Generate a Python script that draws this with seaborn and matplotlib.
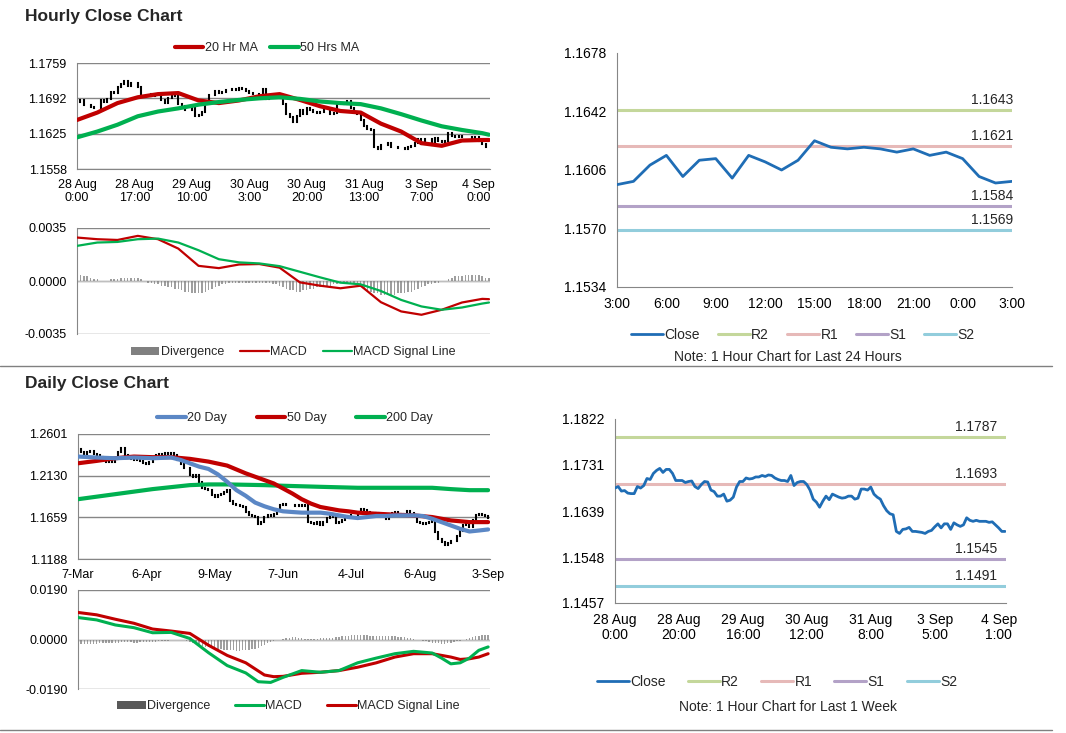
import numpy as np
import pandas as pd
import matplotlib
matplotlib.use('Agg')
import matplotlib.pyplot as plt
from matplotlib.lines import Line2D
from matplotlib.patches import Patch
import seaborn as sns

sns.set_style('white')
plt.rcParams['font.family'] = ['Liberation Sans', 'DejaVu Sans']

# ---------------- data ----------------
# hourly closes 28 Aug 0:00 .. 4 Sep 3:00 (used by the hourly candles and the 1 week chart)
hour_close = [
    1.1685, 1.1688, 1.1679, 1.1680, 1.1675, 1.1674, 1.1674, 1.1688, 1.1685, 1.1690,
    1.1704, 1.1702, 1.1714, 1.1720, 1.1724, 1.1716, 1.1722, 1.1722, 1.1714, 1.1700,
    1.1700, 1.1700, 1.1696, 1.1698, 1.1699, 1.1688, 1.1684, 1.1692, 1.1698, 1.1697,
    1.1681, 1.1678, 1.1669, 1.1669, 1.1673, 1.1659, 1.1661, 1.1667, 1.1687, 1.1698,
    1.1698, 1.1705, 1.1703, 1.1704, 1.1707, 1.1707, 1.1710, 1.1708, 1.1711, 1.1710,
    1.1705, 1.1702, 1.1700, 1.1700, 1.1698, 1.1710, 1.1690, 1.1696, 1.1698, 1.1698,
    1.1692, 1.1681, 1.1663, 1.1657, 1.1647, 1.1659, 1.1669, 1.1662, 1.1673, 1.1670,
    1.1667, 1.1665, 1.1666, 1.1669, 1.1669, 1.1663, 1.1665, 1.1683, 1.1683, 1.1681,
    1.1687, 1.1673, 1.1667, 1.1663, 1.1650, 1.1640, 1.1634, 1.1632, 1.1599, 1.1595,
    1.1603, 1.1604, 1.1607, 1.1599, 1.1599, 1.1598, 1.1597, 1.1595, 1.1599, 1.1601,
    1.1608, 1.1614, 1.1606, 1.1614, 1.1614, 1.1603, 1.1616, 1.1612, 1.1609, 1.1612,
    1.1626, 1.1621, 1.1619, 1.1621, 1.1619, 1.1619, 1.1619, 1.1617, 1.1618, 1.1612,
    1.1606, 1.1599, 1.1599,
]
hour_ma_idx = [0, 6, 12, 18, 24, 30, 36, 42, 48, 54, 60, 66, 72, 78, 84, 90, 96, 102, 108, 114, 120, 122]
ma20_hr = [1.1651, 1.1665, 1.1683, 1.1694, 1.1700, 1.1702, 1.1688, 1.1683, 1.1688, 1.1696, 1.1700,
           1.1689, 1.1677, 1.1668, 1.1665, 1.1644, 1.1629, 1.1607, 1.1602, 1.1612, 1.1613, 1.1613]
ma50_hr = [1.1618, 1.1629, 1.1642, 1.1658, 1.1667, 1.1673, 1.1680, 1.1685, 1.1689, 1.1692, 1.1694,
           1.1691, 1.1686, 1.1683, 1.1681, 1.1673, 1.1662, 1.1650, 1.1639, 1.1632, 1.1626, 1.1623]
macd_hr = [0.00287, 0.00276, 0.00271, 0.00298, 0.00276, 0.00214, 0.00100, 0.00085, 0.00109, 0.00112, 0.00088,
           -0.00009, -0.00031, -0.00048, -0.00031, -0.00140, -0.00201, -0.00223, -0.00190, -0.00142, -0.00118, -0.00120]
signal_hr = [0.00232, 0.00254, 0.00258, 0.00276, 0.00280, 0.00254, 0.00203, 0.00144, 0.00123, 0.00116, 0.00098,
             0.00061, 0.00024, -0.00011, -0.00022, -0.00066, -0.00125, -0.00168, -0.00190, -0.00175, -0.00149, -0.00142]
diverg_hr = [
    0.0004, 0.0004, 0.0003, 0.0003, 0.0002, 0.0001, 0.0001, 0.0000, 0.0000, 0.0000,
    0.0001, 0.0001, 0.0001, 0.0002, 0.0002, 0.0002, 0.0002, 0.0002, 0.0002, 0.0001,
    0.0000, -0.0001, -0.0001, -0.0002, -0.0002, -0.0003, -0.0003, -0.0004, -0.0004, -0.0005,
    -0.0005, -0.0006, -0.0007, -0.0007, -0.0008, -0.0008, -0.0008, -0.0008, -0.0007, -0.0006,
    -0.0005, -0.0004, -0.0003, -0.0002, -0.0002, -0.0001, -0.0001, -0.0001, -0.0001, -0.0001,
    -0.0001, -0.0001, -0.0001, -0.0001, -0.0001, -0.0001, -0.0001, -0.0001, -0.0002, -0.0002,
    -0.0003, -0.0004, -0.0005, -0.0006, -0.0006, -0.0007, -0.0007, -0.0006, -0.0006, -0.0005,
    -0.0005, -0.0004, -0.0004, -0.0004, -0.0003, -0.0003, -0.0002, -0.0002, -0.0001, -0.0001,
    -0.0001, -0.0001, -0.0002, -0.0003, -0.0004, -0.0005, -0.0006, -0.0007, -0.0008, -0.0008,
    -0.0009, -0.0009, -0.0009, -0.0009, -0.0009, -0.0008, -0.0008, -0.0008, -0.0007, -0.0007,
    -0.0006, -0.0005, -0.0004, -0.0003, -0.0002, -0.0002, -0.0001, -0.0001, 0.0000, 0.0000,
    0.0001, 0.0002, 0.0003, 0.0003, 0.0003, 0.0004, 0.0004, 0.0004, 0.0004, 0.0004,
    0.0003, 0.0002, 0.0002,
]
hr_ticks = ['28 Aug\n0:00', '28 Aug\n17:00', '29 Aug\n10:00', '30 Aug\n3:00',
            '30 Aug\n20:00', '31 Aug\n13:00', '3 Sep\n7:00', '4 Sep\n0:00']

# last 24 hours
day_hours = ['3:00', '4:00', '5:00', '6:00', '7:00', '8:00', '9:00', '10:00', '11:00', '12:00',
             '13:00', '14:00', '15:00', '16:00', '17:00', '18:00', '19:00', '20:00', '21:00',
             '22:00', '23:00', '0:00', '1:00', '2:00', '3:00']
day_close = [1.1597, 1.1599, 1.1609, 1.1615, 1.1602, 1.1612, 1.1613, 1.1601, 1.1615, 1.1611,
             1.1606, 1.1612, 1.1624, 1.1620, 1.1619, 1.1620, 1.1619, 1.1617, 1.1619, 1.1615,
             1.1617, 1.1613, 1.1602, 1.1598, 1.1599]
levels_24h = {'R2': 1.1643, 'R1': 1.1621, 'S1': 1.1584, 'S2': 1.1569}
levels_week = {'R2': 1.1787, 'R1': 1.1693, 'S1': 1.1545, 'S2': 1.1491}
week_ticks = ['28 Aug\n0:00', '28 Aug\n20:00', '29 Aug\n16:00', '30 Aug\n12:00',
              '31 Aug\n8:00', '3 Sep\n5:00', '4 Sep\n1:00']

# daily closes 7 Mar .. 3 Sep
daily_close = [
    1.2434, 1.2403, 1.2373, 1.2396, 1.2411, 1.2373, 1.2358, 1.2346, 1.2327, 1.2289,
    1.2297, 1.2282, 1.2327, 1.2403, 1.2441, 1.2365, 1.2327, 1.2320, 1.2308, 1.2327,
    1.2297, 1.2270, 1.2259, 1.2289, 1.2327, 1.2358, 1.2373, 1.2358, 1.2384, 1.2373,
    1.2384, 1.2358, 1.2308, 1.2259, 1.2221, 1.2213, 1.2137, 1.2118, 1.2137, 1.2061,
    1.1993, 1.1978, 1.1966, 1.1909, 1.1890, 1.1909, 1.1928, 1.1947, 1.1966, 1.1841,
    1.1814, 1.1795, 1.1788, 1.1776, 1.1719, 1.1689, 1.1674, 1.1662, 1.1586, 1.1605,
    1.1662, 1.1681, 1.1674, 1.1700, 1.1738, 1.1795, 1.1807, 1.1803, 1.1795, 1.1803,
    1.1788, 1.1795, 1.1788, 1.1803, 1.1605, 1.1598, 1.1586, 1.1605, 1.1575, 1.1605,
    1.1651, 1.1689, 1.1662, 1.1598, 1.1605, 1.1624, 1.1674, 1.1662, 1.1689, 1.1689,
    1.1712, 1.1757, 1.1738, 1.1719, 1.1681, 1.1681, 1.1712, 1.1689, 1.1674, 1.1643,
    1.1700, 1.1712, 1.1719, 1.1700, 1.1681, 1.1700, 1.1727, 1.1712, 1.1674, 1.1605,
    1.1598, 1.1586, 1.1598, 1.1605, 1.1624, 1.1491, 1.1415, 1.1377, 1.1347, 1.1369,
    1.1396, 1.1396, 1.1453, 1.1499, 1.1567, 1.1586, 1.1548, 1.1624, 1.1681, 1.1700,
    1.1689, 1.1674, 1.1651,
]
ma20_d_idx = [0, 6, 12, 18, 24, 30, 33, 36, 39, 42, 45, 48, 51, 54, 57, 60, 63, 66, 69, 72,
              75, 78, 81, 84, 87, 90, 93, 96, 99, 102, 105, 108, 111, 114, 117, 120, 123, 126, 129, 132]
ma20_d = [1.2346, 1.2335, 1.2327, 1.2335, 1.2327, 1.2335, 1.2308, 1.2270, 1.2232, 1.2206,
          1.2145, 1.2061, 1.1966, 1.1902, 1.1826, 1.1784, 1.1750, 1.1727, 1.1719, 1.1712,
          1.1712, 1.1712, 1.1700, 1.1681, 1.1662, 1.1651, 1.1662, 1.1674, 1.1674, 1.1681,
          1.1681, 1.1681, 1.1674, 1.1643, 1.1605, 1.1567, 1.1529, 1.1499, 1.1510, 1.1522]
ma50_d_idx = [0, 6, 12, 18, 24, 30, 36, 42, 48, 54, 60, 63, 66, 69, 72, 75, 78, 81, 84, 87,
              90, 96, 102, 108, 114, 120, 126, 132]
ma50_d = [1.2270, 1.2297, 1.2327, 1.2346, 1.2339, 1.2339, 1.2320, 1.2289, 1.2244, 1.2156,
          1.2080, 1.2042, 1.1985, 1.1928, 1.1864, 1.1814, 1.1776, 1.1757, 1.1738, 1.1727,
          1.1712, 1.1700, 1.1689, 1.1681, 1.1662, 1.1624, 1.1605, 1.1605]
ma200_d_idx = [0, 12, 24, 36, 42, 48, 60, 66, 78, 90, 102, 114, 120, 126, 132]
ma200_d = [1.1864, 1.1921, 1.1978, 1.2023, 1.2031, 1.2031, 1.2023, 1.2016, 1.2004, 1.1993,
           1.1993, 1.1993, 1.1978, 1.1966, 1.1966]
macd_d_idx = [0, 6, 12, 18, 24, 30, 36, 42, 48, 54, 58, 62, 66, 72, 78, 84, 90, 96, 102, 108,
              114, 117, 120, 123, 126, 129, 132]
macd_d = [0.00843, 0.00752, 0.00558, 0.00454, 0.00259, 0.00272, 0.00039, -0.00506, -0.00999, -0.01284,
          -0.01621, -0.01647, -0.01453, -0.01193, -0.01258, -0.01193, -0.00895, -0.00713, -0.00545, -0.00454,
          -0.00519, -0.00713, -0.00934, -0.00895, -0.00713, -0.00415, -0.00285]
signal_d_idx = [0, 6, 12, 18, 24, 30, 36, 42, 48, 54, 60, 63, 66, 72, 78, 84, 90, 96, 102, 108,
                114, 120, 123, 126, 129, 132]
signal_d = [0.01038, 0.00947, 0.00778, 0.00623, 0.00402, 0.00324, 0.00233, -0.00220, -0.00610, -0.00895,
            -0.01362, -0.01427, -0.01414, -0.01297, -0.01258, -0.01193, -0.01064, -0.00895, -0.00674, -0.00545,
            -0.00545, -0.00674, -0.00765, -0.00739, -0.00674, -0.00545]
diverg_d = [
    -0.0018, -0.0018, -0.0017, -0.0017, -0.0016, -0.0016, -0.0016, -0.0015, -0.0015, -0.0015,
    -0.0014, -0.0014, -0.0013, -0.0012, -0.0011, -0.0010, -0.0010, -0.0011, -0.0012, -0.0012,
    -0.0011, -0.0010, -0.0010, -0.0009, -0.0008, -0.0008, -0.0007, -0.0006, -0.0005, -0.0004,
    -0.0003, -0.0003, -0.0002, -0.0002, -0.0003, -0.0005, -0.0008, -0.0012, -0.0016, -0.0020,
    -0.0024, -0.0027, -0.0030, -0.0032, -0.0034, -0.0036, -0.0038, -0.0040, -0.0041, -0.0042,
    -0.0042, -0.0043, -0.0043, -0.0042, -0.0041, -0.0040, -0.0038, -0.0035, -0.0031, -0.0026,
    -0.0020, -0.0014, -0.0009, -0.0005, -0.0002, 0.0000, 0.0003, 0.0005, 0.0007, 0.0008,
    0.0008, 0.0007, 0.0005, 0.0003, 0.0002, 0.0002, 0.0003, 0.0003, 0.0004, 0.0004,
    0.0004, 0.0005, 0.0006, 0.0008, 0.0010, 0.0012, 0.0014, 0.0015, 0.0016, 0.0016,
    0.0016, 0.0016, 0.0016, 0.0016, 0.0015, 0.0015, 0.0015, 0.0014, 0.0014, 0.0014,
    0.0013, 0.0013, 0.0012, 0.0011, 0.0010, 0.0008, 0.0006, 0.0004, 0.0002, 0.0000,
    -0.0002, -0.0004, -0.0006, -0.0009, -0.0012, -0.0014, -0.0015, -0.0016, -0.0016, -0.0015,
    -0.0013, -0.0010, -0.0007, -0.0004, -0.0001, 0.0002, 0.0005, 0.0008, 0.0012, 0.0015,
    0.0017, 0.0018, 0.0016,
]
day_ticks = ['7-Mar', '6-Apr', '9-May', '7-Jun', '4-Jul', '6-Aug', '3-Sep']

# ---------------- style ----------------
RED = '#C00000'
GREEN = '#00B050'
BLUE20 = '#5B87C5'
CLOSE = '#1F6DB5'
LEVEL_COLORS = {'R2': '#C4D79B', 'R1': '#E6B9B8', 'S1': '#B3A2C7', 'S2': '#92CDDC'}
GRID = '#868686'
HIST = '#7F7F7F'

W, H = 1066, 733
fig = plt.figure(figsize=(W / 100, H / 100), dpi=100)


def box(x0, y0, x1, y1):
    return [x0 / W, 1 - y1 / H, (x1 - x0) / W, (y1 - y0) / H]


def base(ax, yticks, size=9, grid=True, fmt='{:.4f}'):
    for s in ['top', 'right']:
        ax.spines[s].set_visible(False)
    ax.spines['left'].set_color(GRID)
    ax.spines['bottom'].set_color(GRID)
    ax.set_ylim(yticks[0], yticks[-1])
    ax.set_yticks(yticks)
    ax.set_yticklabels([fmt.format(v) for v in yticks])
    ax.tick_params(axis='both', colors=GRID, labelcolor='black', labelsize=size,
                   length=4, width=1, direction='out')
    ax.grid(False)
    if grid:
        for v in yticks:
            ax.axhline(v, color=GRID, lw=1, zorder=0)


def candles(ax, closes, lw):
    c = np.array(closes)
    o = np.r_[c[0], c[:-1]]
    x = np.arange(len(c))
    lc = ax.vlines(x, np.minimum(o, c), np.maximum(o, c), color='black', lw=lw, zorder=2)
    lc.set_capstyle('projecting')


def legend(items, xc, yc, size, spacing, patch=None):
    handles = []
    labels = []
    if patch is not None:
        handles.append(Patch(facecolor=patch[1], edgecolor='none'))
        labels.append(patch[0])
    for lab, col, lw in items:
        handles.append(Line2D([], [], color=col, lw=lw, solid_capstyle='round'))
        labels.append(lab)
    fig.legend(handles, labels, loc='center', bbox_to_anchor=(xc / W, 1 - yc / H),
               ncol=len(handles), frameon=False, fontsize=size, handlelength=2.3,
               handletextpad=0.1, columnspacing=spacing, borderaxespad=0, handleheight=0.6)


def histogram(ax, values):
    ax.bar(np.arange(len(values)), values, width=0.45, color=HIST, alpha=0.75,
           linewidth=0, zorder=1)
    ax.axhline(0, color='#BFBFBF', lw=0.8, zorder=0)


# ---------------- hourly close chart ----------------
fig.text(25 / W, 1 - 17 / H, 'Hourly Close Chart', fontsize=12.5, fontweight='bold',
         ha='left', va='center')

ax1 = fig.add_axes(box(77, 63, 490, 169))
base(ax1, [1.1558, 1.1625, 1.1692, 1.1759])
candles(ax1, hour_close, 1.5)
sns.lineplot(x=hour_ma_idx, y=ma20_hr, ax=ax1, color=RED, lw=3, zorder=3)
sns.lineplot(x=hour_ma_idx, y=ma50_hr, ax=ax1, color=GREEN, lw=3, zorder=3)
ax1.set_xlim(0, 122.3)
ax1.set_xticks([0, 17, 34, 51, 68, 85, 102, 119])
ax1.set_xticklabels(hr_ticks, linespacing=1.05)
ax1.set_ylim(1.1558, 1.1759)
legend([('20 Hr MA', RED, 3), ('50 Hrs MA', GREEN, 3)], 267, 48, 9, 1.0)

ax2 = fig.add_axes(box(77, 228, 490, 334))
base(ax2, [-0.0035, 0.0, 0.0035])
ax2.spines['bottom'].set_visible(False)
histogram(ax2, diverg_hr)
sns.lineplot(x=hour_ma_idx, y=macd_hr, ax=ax2, color=RED, lw=1.6, zorder=3)
sns.lineplot(x=hour_ma_idx, y=signal_hr, ax=ax2, color=GREEN, lw=1.6, zorder=3)
ax2.set_xlim(0, 122.3)
ax2.set_ylim(-0.0035, 0.0035)
ax2.set_xticks([])
legend([('MACD', RED, 1.6), ('MACD Signal Line', GREEN, 1.6)], 293, 352, 9, 1.3,
       patch=('Divergence', '#808080'))

# ---------------- last 24 hours ----------------
ax3 = fig.add_axes(box(617, 53, 1012, 287))
base(ax3, [1.1534, 1.1570, 1.1606, 1.1642, 1.1678], size=10, grid=False)
for name, val in levels_24h.items():
    sns.lineplot(x=[0, len(day_close) - 1], y=[val, val], ax=ax3, color=LEVEL_COLORS[name], lw=2.2)
sns.lineplot(x=np.arange(len(day_close)), y=day_close, ax=ax3, color=CLOSE, lw=2, zorder=4)
for name, val in levels_24h.items():
    ax3.annotate(f'{val:.4f}', xy=(24, val), xytext=(1, 2), textcoords='offset points',
                 ha='right', va='bottom', fontsize=10)
ax3.set_xlim(0, 24)
ax3.set_xticks(range(0, 25, 3))
ax3.set_xticklabels(day_hours[::3])
ax3.set_ylim(1.1534, 1.1678)
legend([('Close', CLOSE, 2)] + [(k, LEVEL_COLORS[k], 2.2) for k in levels_24h], 803, 335, 10, 1.3)
fig.text(788 / W, 1 - 357 / H, 'Note: 1 Hour Chart for Last 24 Hours', fontsize=10,
         ha='center', va='center')

# separators
fig.add_artist(Line2D([0, 1052 / W], [1 - 366 / H, 1 - 366 / H], color='#808080', lw=1))
fig.add_artist(Line2D([0, 1052 / W], [1 - 730 / H, 1 - 730 / H], color='#808080', lw=1))

# ---------------- daily close chart ----------------
fig.text(25 / W, 1 - 383 / H, 'Daily Close Chart', fontsize=12.5, fontweight='bold',
         ha='left', va='center')

ax4 = fig.add_axes(box(78, 434, 490, 559))
base(ax4, [1.1188, 1.1659, 1.2130, 1.2601])
candles(ax4, daily_close, 1.5)
sns.lineplot(x=ma200_d_idx, y=ma200_d, ax=ax4, color=GREEN, lw=3, zorder=3)
sns.lineplot(x=ma50_d_idx, y=ma50_d, ax=ax4, color=RED, lw=3, zorder=3)
sns.lineplot(x=ma20_d_idx, y=ma20_d, ax=ax4, color=BLUE20, lw=3, zorder=3)
ax4.set_xlim(0, 132.6)
ax4.set_xticks([0, 22, 44, 66, 88, 110, 132])
ax4.set_xticklabels(day_ticks)
ax4.set_ylim(1.1188, 1.2601)
legend([('20 Day', BLUE20, 3), ('50 Day', RED, 3), ('200 Day', GREEN, 3)], 295, 418, 9, 2.4)

ax5 = fig.add_axes(box(78, 590, 490, 689))
base(ax5, [-0.0190, 0.0, 0.0190])
ax5.spines['bottom'].set_visible(False)
histogram(ax5, diverg_d)
sns.lineplot(x=signal_d_idx, y=signal_d, ax=ax5, color=RED, lw=2.2, zorder=3)
sns.lineplot(x=macd_d_idx, y=macd_d, ax=ax5, color=GREEN, lw=2.2, zorder=3)
ax5.set_xlim(0, 132.6)
ax5.set_ylim(-0.0190, 0.0190)
ax5.set_xticks([])
legend([('MACD', GREEN, 2.2), ('MACD Signal Line', RED, 2.2)], 288, 706, 9, 2.0,
       patch=('Divergence', '#595959'))

# ---------------- last 1 week ----------------
ax6 = fig.add_axes(box(615, 419, 1006, 603))
base(ax6, [1.1457, 1.1548, 1.1639, 1.1731, 1.1822], size=10, grid=False)
for name, val in levels_week.items():
    sns.lineplot(x=[0, 122.3], y=[val, val], ax=ax6, color=LEVEL_COLORS[name], lw=2.2)
sns.lineplot(x=np.arange(len(hour_close)), y=hour_close, ax=ax6, color=CLOSE, lw=2, zorder=4)
for name, val in levels_week.items():
    ax6.annotate(f'{val:.4f}', xy=(119.5, val), xytext=(0, 2), textcoords='offset points',
                 ha='right', va='bottom', fontsize=10)
ax6.set_xlim(0, 122.3)
ax6.set_xticks(range(0, 121, 20))
ax6.set_xticklabels(week_ticks, linespacing=1.05)
ax6.set_ylim(1.1457, 1.1822)
legend([('Close', CLOSE, 2)] + [(k, LEVEL_COLORS[k], 2.2) for k in levels_week], 777, 682, 10, 1.6)
fig.text(788 / W, 1 - 707 / H, 'Note: 1 Hour Chart for Last 1 Week', fontsize=10,
         ha='center', va='center')

fig.savefig('out.png', dpi=100, facecolor='white')
